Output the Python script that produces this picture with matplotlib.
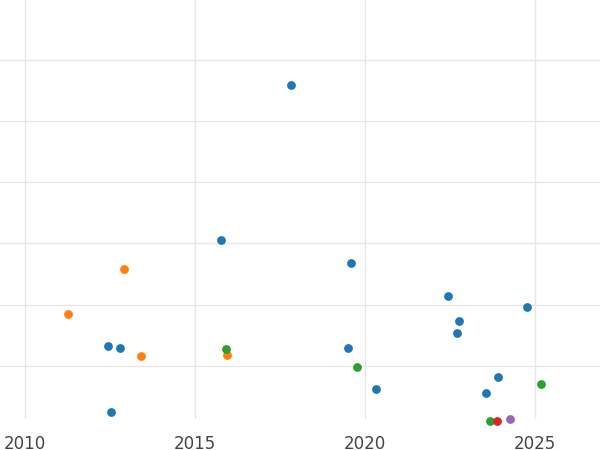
import matplotlib
matplotlib.use("Agg")
import matplotlib.pyplot as plt

blue_x = [2017.82, 2015.76, 2019.59, 2022.44, 2024.74, 2022.74, 2022.71, 2012.44, 2012.79, 2019.5, 2020.32, 2023.91, 2023.56, 2012.53]
blue_y = [5.59, 3.06, 2.68, 2.14, 1.96, 1.73, 1.54, 1.32, 1.29, 1.29, 0.62, 0.82, 0.56, 0.25]
orange_x = [2012.91, 2011.26, 2013.41, 2015.94]
orange_y = [2.58, 1.85, 1.16, 1.18]
green_x = [2015.91, 2019.76, 2025.18, 2023.68]
green_y = [1.27, 0.98, 0.70, 0.10]
red_x = [2023.88]
red_y = [0.10]
purple_x = [2024.24]
purple_y = [0.13]

fig = plt.figure(figsize=(6, 4.5), dpi=100)
ax = fig.add_axes([0, 0.07, 1, 0.93])
for xs, ys, c in [(blue_x, blue_y, "#1f77b4"), (orange_x, orange_y, "#ff7f0e"),
                  (green_x, green_y, "#2ca02c"), (red_x, red_y, "#d62728"),
                  (purple_x, purple_y, "#9467bd")]:
    ax.scatter(xs, ys, s=40, color=c, zorder=3, linewidths=0, clip_on=False)
ax.set_xlim(2009.26, 2026.9)
ax.set_ylim(0.139, 6.98)
ax.set_xticks([2010, 2015, 2020, 2025])
ax.set_yticks([1, 2, 3, 4, 5, 6])
ax.set_yticklabels([])
ax.grid(True, color="#e6e6e6", linewidth=1)
ax.tick_params(length=0, labelsize=12, labelcolor="#444444", pad=12)
ax.tick_params(axis="y", left=False)
for s in ax.spines.values():
    s.set_visible(False)
ax.set_axisbelow(True)
fig.savefig("out.png", dpi=100)
